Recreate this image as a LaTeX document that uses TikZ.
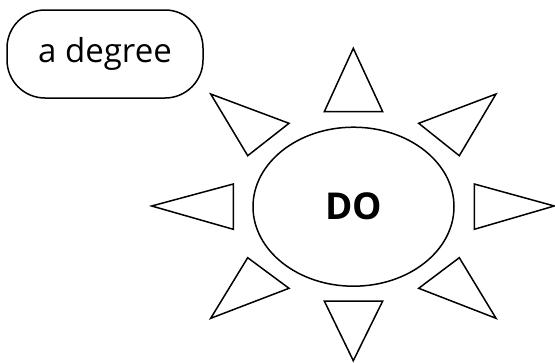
\documentclass[tikz,border=0pt]{standalone}
\usepackage{fontspec}
\setmainfont{Open Sans}
\usetikzlibrary{shapes.geometric}

\begin{document}
\begin{tikzpicture}[x=1pt,y=-1pt,line width=1.5pt,
  ray/.style={draw=black,line join=miter},
  tagbox/.style={draw=black,rounded corners=38pt,minimum width=196pt,minimum height=88pt,inner sep=0pt,font=\fontsize{33}{38}\selectfont},
  core/.style={draw=black,ellipse,minimum width=201pt,minimum height=159pt,inner sep=0pt,font=\fontsize{37}{42}\selectfont\bfseries}]
  \useasboundingbox (0,0) rectangle (555,362);
  %% Label and centre
  \node[tagbox] (tag) at (105,54) {a degree};
  \node[core] (sun) at (353.5,206.7) {DO};
  %% Rays, clockwise from the top
  \draw[ray] (353.3,48.3) -- (382.7,111.7) -- (324.3,111.7) -- cycle;
  \draw[ray] (496,94) -- (459.3,155.7) -- (418.7,123.3) -- cycle;
  \draw[ray] (554.3,206) -- (474.3,229.3) -- (474.3,184) -- cycle;
  \draw[ray] (496,318.3) -- (418.7,288.3) -- (459.3,257.7) -- cycle;
  \draw[ray] (353.3,360.7) -- (324.3,301) -- (382.7,301) -- cycle;
  \draw[ray] (210.7,318.3) -- (247.7,257.7) -- (289,288.3) -- cycle;
  \draw[ray] (151.7,206) -- (233.3,184) -- (233.3,229.3) -- cycle;
  \draw[ray] (210.7,94) -- (289,123.3) -- (247.7,155.7) -- cycle;
\end{tikzpicture}
\end{document}
